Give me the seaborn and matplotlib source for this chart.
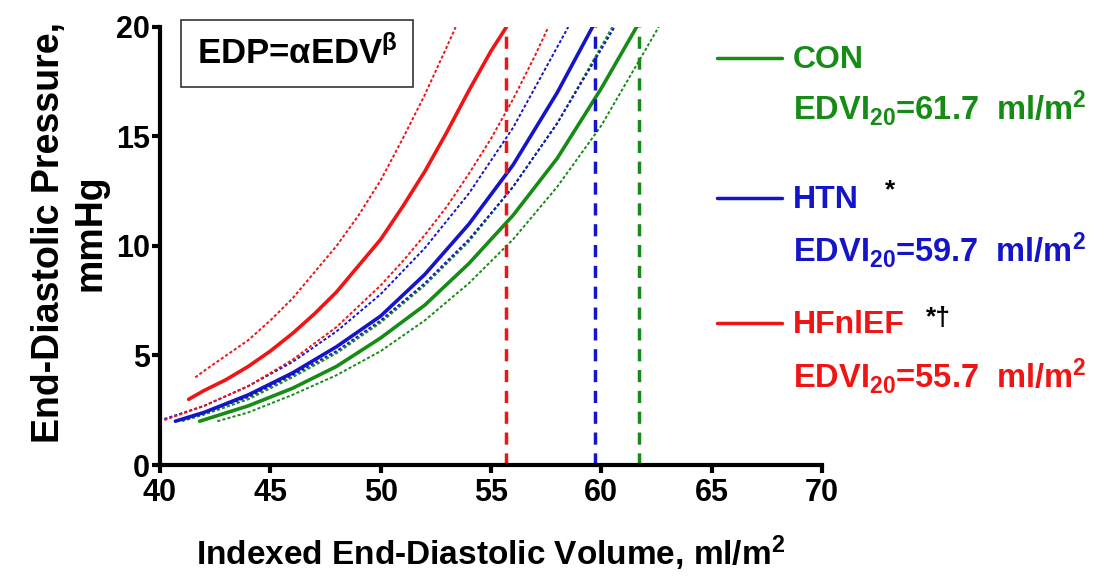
import numpy as np
import pandas as pd
import seaborn as sns
import matplotlib.pyplot as plt
from matplotlib.lines import Line2D

# grupos y colores
grupos = ["CON", "HTN", "HFnlEF"]
colores = {"CON": "#168c16", "HTN": "#1414c8", "HFnlEF": "#f01414"}
edvi20 = [61.7, 59.7, 55.7]
marcas = ["", "*", "*\u2020"]

# curvas ajustadas
con_x = [41.8, 44, 46, 48, 50, 52, 54, 56, 58, 60, 61.6]
con_y = [2.0, 2.7, 3.5, 4.5, 5.8, 7.3, 9.2, 11.4, 14.0, 17.2, 20.0]
con_sup_x = [41.0, 42, 44, 46, 48, 50, 52, 54, 56, 58, 60.5]
con_sup_y = [2.0, 2.3, 3.0, 4.0, 5.1, 6.5, 8.2, 10.2, 12.7, 15.6, 20.0]
con_inf_x = [42.6, 44, 46, 48, 50, 52, 54, 56, 58, 60, 62.6]
con_inf_y = [2.0, 2.4, 3.2, 4.1, 5.2, 6.6, 8.3, 10.3, 12.7, 15.5, 20.0]

htn_x = [40.7, 42, 44, 46, 48, 50, 52, 54, 56, 58, 59.6]
htn_y = [2.0, 2.4, 3.2, 4.2, 5.4, 6.8, 8.7, 11.0, 13.7, 17.0, 20.0]
htn_sup_x = [40.2, 42, 44, 46, 48, 50, 52, 54, 56, 58.5]
htn_sup_y = [2.1, 2.7, 3.6, 4.7, 6.1, 7.8, 9.9, 12.4, 15.4, 20.0]
htn_inf_x = [40.7, 42, 44, 46, 48, 50, 52, 54, 56, 58, 60.6]
htn_inf_y = [2.0, 2.4, 3.1, 4.1, 5.2, 6.6, 8.3, 10.3, 12.7, 15.6, 20.0]

hf_x = [41.3, 42, 43, 44, 45, 46, 47, 48, 49, 50, 51, 52, 53, 54, 55, 55.7]
hf_y = [3.0, 3.4, 3.9, 4.5, 5.2, 6.0, 6.9, 7.9, 9.1, 10.3, 11.8, 13.4, 15.2, 17.1, 18.9, 20.0]
hf_sup_x = [41.6, 42, 43, 44, 45, 46, 47, 48, 49, 50, 51, 52, 53, 53.4]
hf_sup_y = [4.0, 4.3, 5.0, 5.7, 6.6, 7.6, 8.8, 10.0, 11.4, 13.0, 14.9, 16.9, 19.1, 20.0]
hf_inf_x = [40.2, 42, 44, 46, 48, 50, 51, 52, 53, 54, 55, 56, 57, 57.6]
hf_inf_y = [2.05, 2.7, 3.6, 4.8, 6.3, 8.2, 9.3, 10.5, 11.8, 13.3, 14.9, 16.7, 18.7, 20.0]

curvas = {
    "CON": [(con_x, con_y), (con_sup_x, con_sup_y), (con_inf_x, con_inf_y)],
    "HTN": [(htn_x, htn_y), (htn_sup_x, htn_sup_y), (htn_inf_x, htn_inf_y)],
    "HFnlEF": [(hf_x, hf_y), (hf_sup_x, hf_sup_y), (hf_inf_x, hf_inf_y)],
}

sns.set_style("ticks")
plt.rcParams["font.family"] = ["Liberation Sans", "DejaVu Sans"]
plt.rcParams["mathtext.fontset"] = "custom"
plt.rcParams["mathtext.rm"] = "Liberation Sans"
plt.rcParams["mathtext.bf"] = "Liberation Sans:bold"
plt.rcParams["mathtext.it"] = "Liberation Sans:italic"
plt.rcParams["mathtext.default"] = "regular"
for k in ["axes.edgecolor", "text.color", "xtick.color", "ytick.color", "axes.labelcolor"]:
    plt.rcParams[k] = "black"

fig = plt.figure(figsize=(11.17, 5.83), dpi=100)
ax = fig.add_axes([0.1432, 0.2024, 0.5927, 0.7513])

for g in grupos:
    for i, (xs, ys) in enumerate(curvas[g]):
        df = pd.DataFrame({"x": xs, "y": ys})
        if i == 0:
            sns.lineplot(data=df, x="x", y="y", color=colores[g], lw=2.6,
                         ax=ax, sort=False)
        else:
            sns.lineplot(data=df, x="x", y="y", color=colores[g], lw=1.4,
                         ax=ax, sort=False, linestyle=(0, (1.6, 1.1)))

# lineas verticales en EDVI20
for g, v in zip(grupos, edvi20):
    ax.vlines(v, 0, 20, colors=colores[g], lw=2.5, linestyles=(0, (3.5, 2.5)))

ax.set_xlim(40, 70)
ax.set_ylim(0, 20)
ax.set_xticks(range(40, 71, 5))
ax.set_yticks(range(0, 21, 5))
sns.despine(ax=ax)
for s in ["left", "bottom"]:
    ax.spines[s].set_linewidth(3)
ax.tick_params(width=3, length=6, labelsize=22)
ax.tick_params(axis="x", pad=3)
ax.tick_params(axis="y", pad=1)
for lab in ax.get_xticklabels() + ax.get_yticklabels():
    lab.set_fontweight("bold")

ax.set_xlabel("Indexed End-Diastolic Volume, ml/m$^2$", fontsize=24,
              fontweight="bold", labelpad=19)
ax.set_ylabel("End-Diastolic Pressure,\nmmHg", fontsize=27,
              fontweight="bold")
ax.yaxis.set_label_coords(-0.077, 0.53)

ax.text(0.207, 0.94, "EDP=\u03b1EDV$^{\u03b2}$", transform=ax.transAxes,
        fontsize=25, fontweight="bold", ha="center", va="center",
        bbox=dict(boxstyle="square,pad=0.45", fc="white", ec="#333333", lw=1.2),
        clip_on=False)

# leyenda manual a la derecha
W, H = 1117, 583
filas = [(58, 68, 120), (198, 208, 262), (323, 333, 388)]
marca_pos = [None, (885, 190), (926, 318)]
for g, v, m, (yl, yb, ye), mp in zip(grupos, edvi20, marcas, filas, marca_pos):
    fig.add_artist(Line2D([717 / W, 782 / W], [1 - yl / H, 1 - yl / H],
                          color=colores[g], lw=2.5))
    fig.text(793 / W, 1 - yb / H, g, color=colores[g], fontsize=23,
             fontweight="bold", va="baseline")
    if m:
        fig.text(mp[0] / W, 1 - mp[1] / H, m, color="black",
                 fontsize=19, fontweight="bold", va="center")
    fig.text(793 / W, 1 - ye / H, "EDVI$_{20}$=%.1f  ml/m$^2$" % v,
             color=colores[g], fontsize=23.5, fontweight="bold", va="baseline")

fig.savefig("out.png", dpi=100)
